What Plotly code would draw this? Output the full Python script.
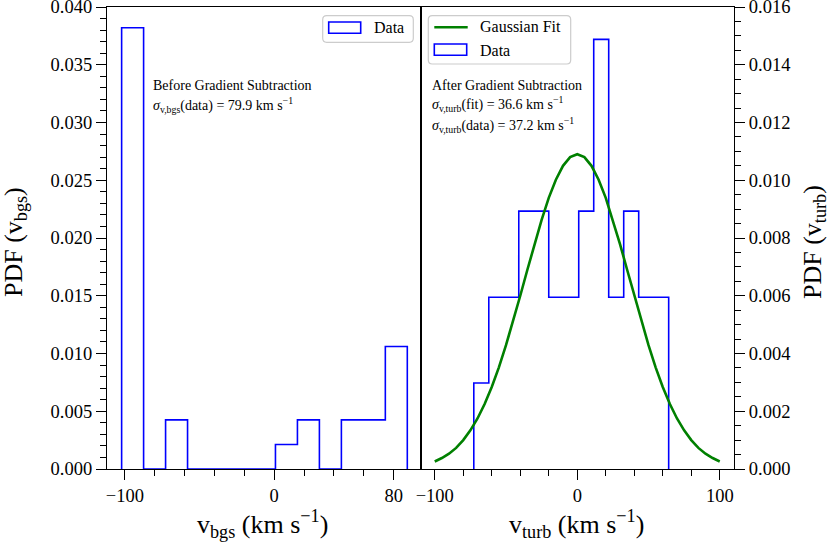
import plotly.graph_objects as go

# ---------------- data ----------------
bgs_edges = [-102.2, -87.48, -72.76, -58.04, -43.32, -28.60, -13.88, 0.84,
             15.56, 30.28, 45.00, 59.72, 74.44, 89.16]
bgs_pdf = [0.0382, 0.0, 0.00425, 0.0, 0.0, 0.0, 0.0, 0.00212,
           0.00425, 0.0, 0.00425, 0.00425, 0.0106]

turb_edges = [-72.6, -62.08, -51.56, -41.04, -30.52, -20.0, -9.48, 1.04,
              11.56, 22.08, 32.6, 43.12, 53.64, 64.16]
turb_pdf = [0.00298, 0.00595, 0.00595, 0.00893, 0.00893, 0.00595, 0.00595,
            0.00893, 0.01488, 0.00595, 0.00893, 0.00595, 0.00595]

fit_x = [-100, -95, -90, -85, -80, -75, -70, -65, -60, -55, -50, -45, -40,
         -35, -30, -25, -20, -15, -10, -5, 0, 5, 10, 15, 20, 25, 30, 35, 40,
         45, 50, 55, 60, 65, 70, 75, 80, 85, 90, 95, 100]
fit_y = [0.00026, 0.00038, 0.00053, 0.00073, 0.00100, 0.00134, 0.00175,
         0.00225, 0.00284, 0.00352, 0.00429, 0.00512, 0.00600, 0.00690,
         0.00779, 0.00863, 0.00939, 0.01002, 0.01050, 0.01080, 0.01090,
         0.01080, 0.01050, 0.01002, 0.00939, 0.00863, 0.00779, 0.00690,
         0.00600, 0.00512, 0.00429, 0.00352, 0.00284, 0.00225, 0.00175,
         0.00134, 0.00100, 0.00073, 0.00053, 0.00038, 0.00026]

left_xticks = [-100, 0, 80]
right_xticks = [-100, 0, 100]
left_yticks = [0.0, 0.005, 0.010, 0.015, 0.020, 0.025, 0.030, 0.035, 0.040]
right_yticks = [0.0, 0.002, 0.004, 0.006, 0.008, 0.010, 0.012, 0.014, 0.016]

BLUE = "#0000ff"
GREEN = "#008000"
FONT = "Liberation Serif"

W, H = 830, 542
ML, MR, MT, MB = 107, 96, 7, 73
PW, PH = W - ML - MR, H - MT - MB


def px(x):
    return (x - ML) / PW


def py(y):
    return (H - MB - y) / PH


def step_xy(edges, heights):
    xs = [edges[0]] + list(edges[:-1]) + [edges[-1]]
    ys = [0.0] + list(heights) + [0.0]
    return xs, ys


fig = go.Figure()

bx, by = step_xy(bgs_edges, bgs_pdf)
fig.add_trace(go.Scatter(x=bx, y=by, mode="lines", line=dict(color=BLUE, width=1.6, shape="hv"),
                         xaxis="x", yaxis="y", showlegend=False))

tx, ty = step_xy(turb_edges, turb_pdf)
fig.add_trace(go.Scatter(x=tx, y=ty, mode="lines", line=dict(color=BLUE, width=1.6, shape="hv"),
                         xaxis="x2", yaxis="y2", showlegend=False))
fig.add_trace(go.Scatter(x=fit_x, y=fit_y, mode="lines", line=dict(color=GREEN, width=2.6),
                         xaxis="x2", yaxis="y2", showlegend=False))

axis_common = dict(showline=True, linecolor="black", linewidth=1.3, mirror=True,
                   ticks="outside", tickcolor="black", tickwidth=1.2, ticklen=10,
                   showgrid=False, zeroline=False, automargin=False, tickmode="array",
                   ticklabeloverflow="allow",
                   tickfont=dict(family=FONT, size=18.5, color="black"))
minor_common = dict(ticks="outside", ticklen=6, tickcolor="black", tickwidth=1, showgrid=False)

fig.update_layout(
    width=W, height=H,
    margin=dict(l=ML, r=MR, t=MT, b=MB, autoexpand=False),
    paper_bgcolor="white", plot_bgcolor="white",
    showlegend=False,
    xaxis=dict(domain=[0, 0.5], range=[-112, 98], tickvals=left_xticks,
               minor=dict(dtick=20, tick0=0, **minor_common), anchor="y", **axis_common),
    yaxis=dict(domain=[0, 1], range=[0, 0.040], tickvals=left_yticks, tickformat=".3f",
               minor=dict(dtick=0.001, tick0=0, **minor_common), anchor="x", **axis_common),
    xaxis2=dict(domain=[0.5, 1], range=[-110, 110], tickvals=right_xticks,
                minor=dict(dtick=20, tick0=0, **minor_common), anchor="y2", **axis_common),
    yaxis2=dict(domain=[0, 1], range=[0, 0.016], tickvals=right_yticks, tickformat=".3f", side="right",
                minor=dict(dtick=0.0005, tick0=0, **minor_common), anchor="x2", **axis_common),
)


def rounded_rect(x0, y0, x1, y1, r=4):
    rx, ry = r / PW, r / PH
    X0, X1 = px(x0), px(x1)
    Y0, Y1 = py(y0), py(y1)
    return (f"M{X0 + rx},{Y0} L{X1 - rx},{Y0} Q{X1},{Y0} {X1},{Y0 - ry} "
            f"L{X1},{Y1 + ry} Q{X1},{Y1} {X1 - rx},{Y1} L{X0 + rx},{Y1} "
            f"Q{X0},{Y1} {X0},{Y1 + ry} L{X0},{Y0 - ry} Q{X0},{Y0} {X0 + rx},{Y0} Z")


shapes = []
shapes.append(dict(type="path", xref="paper", yref="paper", path=rounded_rect(322.7, 15.7, 413.3, 42.3),
                   line=dict(color="#cccccc", width=1.2), fillcolor="rgba(255,255,255,0.8)"))
shapes.append(dict(type="rect", xref="paper", yref="paper", x0=px(328.7), x1=px(360.7), y0=py(33.3), y1=py(22),
                   line=dict(color=BLUE, width=1.6), fillcolor="rgba(0,0,0,0)"))
shapes.append(dict(type="path", xref="paper", yref="paper", path=rounded_rect(428.3, 15.7, 570.7, 64),
                   line=dict(color="#cccccc", width=1.2), fillcolor="rgba(255,255,255,0.8)"))
shapes.append(dict(type="line", xref="paper", yref="paper", x0=px(434.3), x1=px(467.7), y0=py(27.3), y1=py(27.3),
                   line=dict(color=GREEN, width=2.6)))
shapes.append(dict(type="rect", xref="paper", yref="paper", x0=px(434.3), x1=px(466.7), y0=py(55.3), y1=py(44),
                   line=dict(color=BLUE, width=1.6), fillcolor="rgba(0,0,0,0)"))
fig.update_layout(shapes=shapes)

ann_font = dict(family=FONT, size=14, color="black")
leg_font = dict(family=FONT, size=16, color="black")
title_font = dict(family=FONT, size=26, color="black")
anns = [
    dict(x=px(373.3), y=py(28), text="Data", font=leg_font),
    dict(x=px(479.3), y=py(27), text="Gaussian Fit", font=leg_font),
    dict(x=px(479.3), y=py(50), text="Data", font=leg_font),
    dict(x=px(152.3), y=py(85.5), text="Before Gradient Subtraction", font=ann_font),
    dict(x=px(152.3), y=py(105.5), text="<i>σ</i><sub>v,bgs</sub>(data) = 79.9 km s<sup>−1</sup>", font=ann_font),
    dict(x=px(431), y=py(85.5), text="After Gradient Subtraction", font=ann_font),
    dict(x=px(431), y=py(103.5), text="<i>σ</i><sub>v,turb</sub>(fit) = 36.6 km s<sup>−1</sup>", font=ann_font),
    dict(x=px(431), y=py(125.5), text="<i>σ</i><sub>v,turb</sub>(data) = 37.2 km s<sup>−1</sup>", font=ann_font),
]
for a in anns:
    a.update(xanchor="left", yanchor="middle")
titles = [
    dict(x=px(262.5), y=py(524), text="v<sub>bgs</sub> (km s<sup>−1</sup>)", font=title_font),
    dict(x=px(576.7), y=py(524), text="v<sub>turb</sub> (km s<sup>−1</sup>)", font=title_font),
    dict(x=px(15), y=py(242), text="PDF (v<sub>bgs</sub>)", font=title_font, textangle=-90),
    dict(x=px(814), y=py(242), text="PDF (v<sub>turb</sub>)", font=title_font, textangle=-90),
]
for a in titles:
    a.update(xanchor="center", yanchor="middle")
anns += titles
for a in anns:
    a.update(xref="paper", yref="paper", showarrow=False, borderpad=0)
fig.update_layout(annotations=anns)

fig.write_html("out.html", config={"displayModeBar": False},
               post_script="document.body.style.margin='0';document.body.style.padding='0';"
                           "document.body.style.overflow='hidden';")
